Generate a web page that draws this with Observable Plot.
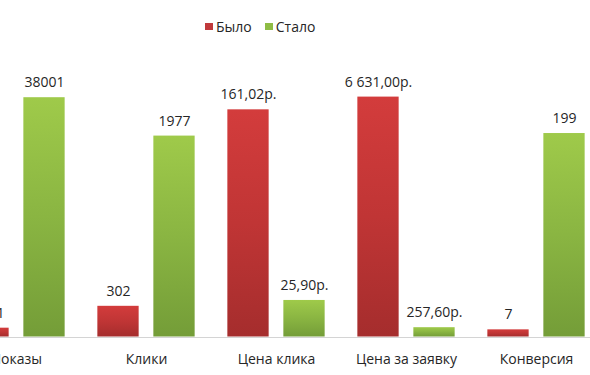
<!DOCTYPE html>
<html>
<head>
<meta charset="utf-8">
<script src="https://cdn.jsdelivr.net/npm/d3@7"></script>
<script src="https://cdn.jsdelivr.net/npm/@observablehq/plot@0.6"></script>
<style>
  html, body { margin: 0; padding: 0; background: #fff; }
  body { width: 590px; height: 375px; overflow: hidden; font-family: "Open Sans", sans-serif; }
  #legend { position: relative; height: 40px; }
  #legend .row { position: absolute; top: 17px; left: 205px; display: flex; align-items: center; font-size: 14px; line-height: 19px; color: #262626; }
  #legend .sw { width: 8px; height: 7px; display: inline-block; margin-right: 3px; }
  #legend .item { display: flex; align-items: center; margin-right: 13px; }
</style>
</head>
<body>
<div id="legend"></div>
<div id="chart"></div>
<script>
// ---- data ----
const categories = ["Показы", "Клики", "Цена клика", "Цена за заявку", "Конверсия"];
const seriesNames = ["Было", "Стало"];
const byloValues = [1401, 302, 161.02, 6631, 7];
const staloValues = [38001, 1977, 25.90, 257.60, 199];
const byloLabels = ["1401", "302", "161,02р.", "6 631,00р.", "7"];
const staloLabels = ["38001", "1977", "25,90р.", "257,60р.", "199"];
// each category is drawn against its own (hidden) value axis maximum
const axisMax = [39700, 2460, 177.2, 6910, 244.5];

const seriesColors = ["#c0393b", "#8fbc45"];

// ---- build rows ----
const rowsBylo = categories.map((c, i) => ({cat: c, v: byloValues[i] / axisMax[i], label: byloLabels[i]}));
const rowsStalo = categories.map((c, i) => ({cat: c, v: staloValues[i] / axisMax[i], label: staloLabels[i]}));

// ---- legend ----
const legend = document.getElementById("legend");
const row = document.createElement("div");
row.className = "row";
seriesNames.forEach((n, i) => {
  const it = document.createElement("span");
  it.className = "item";
  const sw = document.createElement("span");
  sw.className = "sw";
  sw.style.background = seriesColors[i];
  it.appendChild(sw);
  it.appendChild(document.createTextNode(n));
  row.appendChild(it);
});
legend.appendChild(row);

// ---- chart ----
const W = 590, H = 335;
const baseY = 296.5, fullH = 250;
const step = 130.3, firstCenter = 15.5;
const x0 = firstCenter - step / 2;
const gap = 14.4, barW = 41.6;
const innerInset = step / 2 + gap / 2;
const outerInset = step - barW - innerInset;
const off = gap / 2 + barW / 2;

const plot = Plot.plot({
  width: W,
  height: H,
  marginTop: baseY - fullH,
  marginBottom: H - baseY,
  marginLeft: 0,
  marginRight: 0,
  style: {fontFamily: "Open Sans, sans-serif", fontSize: "14px", color: "#262626", background: "transparent"},
  x: {type: "band", domain: categories, range: [x0, x0 + step * categories.length], padding: 0, label: null},
  y: {domain: [0, 1], range: [baseY, baseY - fullH], axis: null},
  marks: [
    Plot.ruleY([0], {stroke: "#d4d4d4", strokeWidth: 1, dy: 0.5}),
    Plot.barY(rowsBylo, {x: "cat", y: "v", fill: "url(#gradRed)", insetLeft: outerInset, insetRight: innerInset}),
    Plot.barY(rowsStalo, {x: "cat", y: "v", fill: "url(#gradGreen)", insetLeft: innerInset, insetRight: outerInset}),
    Plot.text(rowsBylo, {x: "cat", y: "v", text: "label", dx: -off, dy: -15, fill: "#262626", fontSize: 14}),
    Plot.text(rowsStalo, {x: "cat", y: "v", text: "label", dx: off, dy: -15, fill: "#262626", fontSize: 14}),
    Plot.axisX({tickSize: 0, tickPadding: 17, fontSize: 14, label: null, fill: "#262626"})
  ]
});

const svg = d3.select(plot);
const defs = svg.insert("defs", ":first-child");
function grad(id, top, mid, bottom) {
  const g = defs.append("linearGradient").attr("id", id).attr("x1", 0).attr("y1", 0).attr("x2", 0).attr("y2", 1);
  g.append("stop").attr("offset", "0%").attr("stop-color", top);
  g.append("stop").attr("offset", "50%").attr("stop-color", mid);
  g.append("stop").attr("offset", "100%").attr("stop-color", bottom);
}
grad("gradRed", "#d33c3c", "#c03535", "#a52d2d");
grad("gradGreen", "#9fca4a", "#8ab542", "#749d38");

document.getElementById("chart").appendChild(plot);
</script>
</body>
</html>
